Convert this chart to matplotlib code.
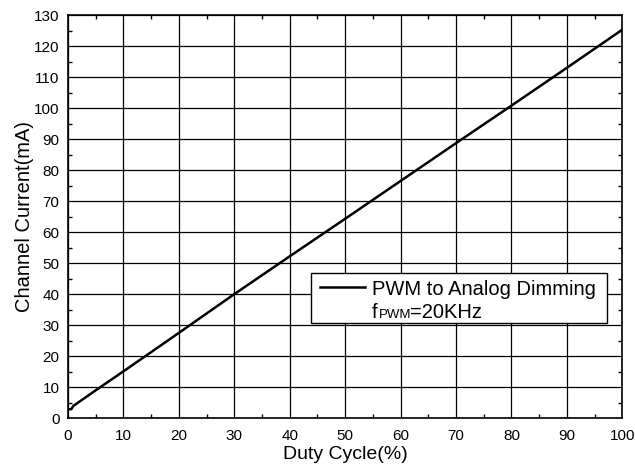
import matplotlib
matplotlib.use("Agg")
from matplotlib import pyplot as plt
from matplotlib.ticker import MultipleLocator
from matplotlib.patches import Rectangle

plt.rcParams['font.family'] = ['Liberation Sans', 'DejaVu Sans']

duty = [0.1, 0.6, 1, 5.5, 10, 20, 30, 40, 50, 60, 70, 80, 90, 100]
current = [2.9, 2.9, 4.0, 9.6, 15.1, 27.5, 40.0, 52.2, 64.3, 76.5, 88.7, 100.8, 113.0, 125.3]

legend_label = 'PWM to Analog Dimming'
freq_label = ('f', 'PWM', '=20KHz')

fig = plt.figure(figsize=(6.35, 4.72), dpi=100)
ax = fig.add_axes([0.107, 0.114, 0.873, 0.854])

ax.plot(duty, current, color='black', lw=1.8)

ax.set_xlim(0, 100)
ax.set_ylim(0, 130)
ax.xaxis.set_major_locator(MultipleLocator(10))
ax.xaxis.set_minor_locator(MultipleLocator(5))
ax.yaxis.set_major_locator(MultipleLocator(10))
ax.yaxis.set_minor_locator(MultipleLocator(5))
ax.grid(True, which='major', color='black', lw=0.9)
ax.tick_params(which='both', direction='in', top=True, right=True, labelsize=11, colors='black')
ax.tick_params(which='major', length=0)
ax.tick_params(axis='x', which='major', pad=8)
ax.tick_params(axis='y', which='major', pad=6)
ax.tick_params(which='minor', length=3, width=1)
for s in ax.spines.values():
    s.set_linewidth(1.2)

ax.set_xlabel('Duty Cycle(%)', fontsize=14, labelpad=2)
ax.set_ylabel('Channel Current(mA)', fontsize=14.5, labelpad=0)

# legend box drawn by hand (two text lines)
ax.add_patch(Rectangle((0.439, 0.236), 0.534, 0.124, transform=ax.transAxes,
                       facecolor='white', edgecolor='black', lw=1.0, zorder=5))
ax.plot([0.455, 0.536], [0.325, 0.325], transform=ax.transAxes, color='black', lw=1.8, zorder=6)
ax.text(0.548, 0.305, legend_label, transform=ax.transAxes, fontsize=14.5,
        va='baseline', zorder=6)
ax.text(0.548, 0.248, freq_label[0], transform=ax.transAxes, fontsize=14.5, va='baseline', zorder=6)
ax.text(0.560, 0.248, freq_label[1], transform=ax.transAxes, fontsize=9.5, va='baseline', zorder=6)
ax.text(0.617, 0.248, freq_label[2], transform=ax.transAxes, fontsize=14.5, va='baseline', zorder=6)

fig.savefig('out.png', dpi=100)
